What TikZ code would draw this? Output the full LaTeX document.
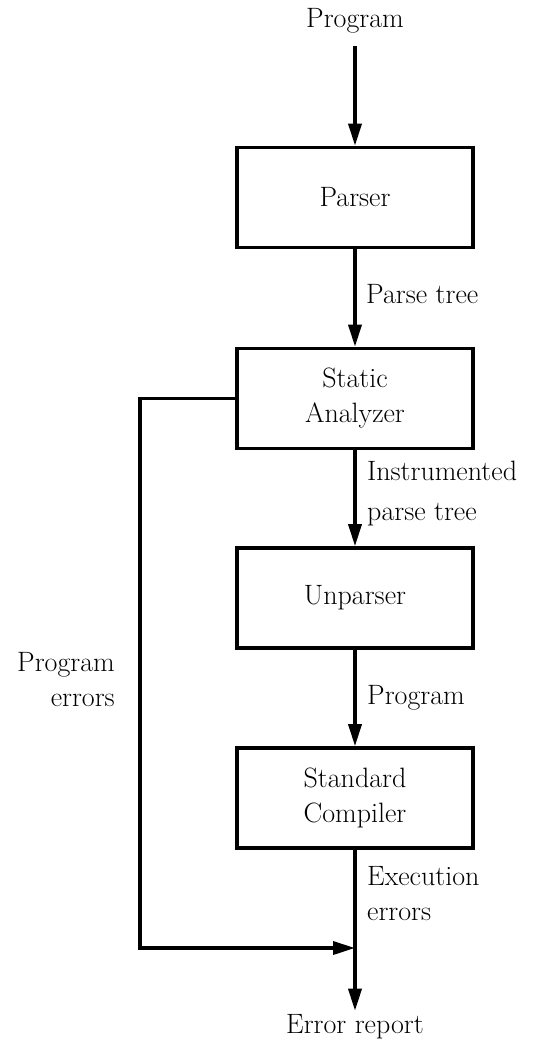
\documentclass[tikz,border=0pt]{standalone}
\usetikzlibrary{arrows.meta}
\begin{document}
\begin{tikzpicture}[x=1pt,y=-1pt,
  every node/.style={font=\fontsize{28}{35}\selectfont, inner sep=3pt},
  stage/.style={draw, line width=3.6pt, minimum width=236pt, minimum height=100pt, align=center},
  lbl/.style={anchor=base west, align=left},
  flow/.style={line width=3.6pt, -{Triangle[length=22pt,width=13pt]}}]
  \useasboundingbox (0,0) rectangle (542,1045);

  % processing stages
  \node[stage] (parser) at (355,197.5) {Parser};
  \node[stage] (sa)     at (355,398.5) {Static\\Analyzer};
  \node[stage] (unp)    at (355,598)   {Unparser};
  \node[stage] (sc)     at (355,798)   {Standard\\Compiler};

  % input and output
  \node[anchor=base] (prog) at (355,27)   {Program};
  \node[anchor=base] (err)  at (355,1033) {Error report};

  % main flow
  \draw[flow, shorten <=10pt] (prog.south) -- (parser.north);
  \draw[flow] (parser) -- (sa);
  \draw[flow] (sa) -- (unp);
  \draw[flow] (unp) -- (sc);
  \draw[flow] (sc) -- (err.north);

  % program errors fed back to the report
  \coordinate (fbk)  at (140,398.5);
  \coordinate (join) at (355,948);
  \draw[flow] (sa.west) -- (fbk) |- (join);

  % edge labels (base = baseline of the last line)
  \node[lbl] (l1) at (363,303) {Parse tree};
  \node[lbl] (l2) at (364,520) {Instrumented\\[5pt]parse tree};
  \node[lbl] (l3) at (364,704) {Program};
  \node[lbl] (l4) at (364,920) {Execution\\errors};
  \node[anchor=base east, align=right] (l5) at (118,706) {Program\\errors};
\end{tikzpicture}
\end{document}
